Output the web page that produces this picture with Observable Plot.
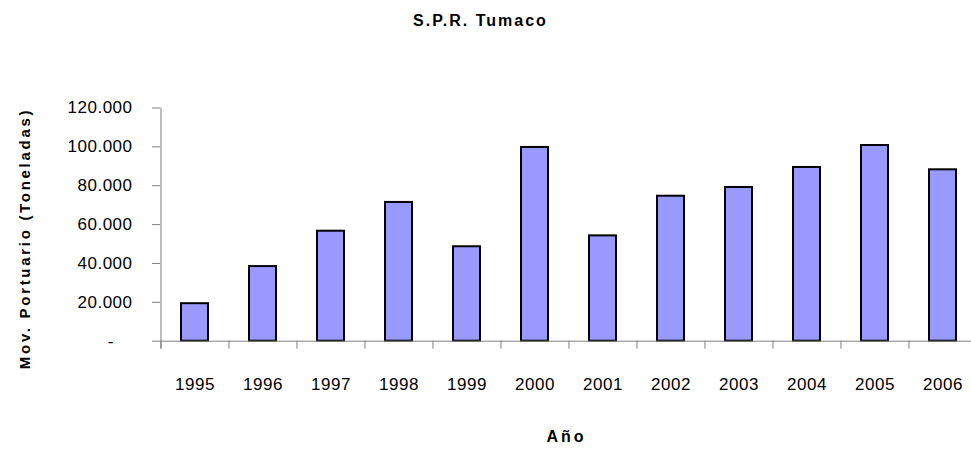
<!DOCTYPE html>
<html>
<head>
<meta charset="utf-8">
<script src="https://cdn.jsdelivr.net/npm/d3@7"></script>
<script src="https://cdn.jsdelivr.net/npm/@observablehq/plot@0.6"></script>
<style>
  body { margin: 0; background: #fff; }
  #chart { width: 971px; height: 450px; }
</style>
</head>
<body>
<div id="chart"></div>
<script>
const title = "S.P.R. Tumaco";
const xTitle = "Año";
const yTitle = "Mov. Portuario (Toneladas)";
const years = ["1995", "1996", "1997", "1998", "1999", "2000", "2001", "2002", "2003", "2004", "2005", "2006"];
const tonnes = [19300, 38400, 56600, 71400, 48600, 99700, 54200, 74600, 79100, 89400, 100700, 88200];
const yTicks = [0, 20000, 40000, 60000, 80000, 100000, 120000];

const data = years.map((year, i) => ({year, value: tonnes[i]}));
const fmt = d => d3.format(",")(d).replace(/,/g, ".");

const W = 971, H = 450;
const mLeft = 160, mTop = 107.5, mBottom = 109.3;
const xEnd = 977;
const step = (xEnd - mLeft) / years.length;
const frameH = H - mTop - mBottom;
const font = "'Liberation Sans', Arial, sans-serif";

const chart = Plot.plot({
  width: W,
  height: H,
  marginLeft: mLeft,
  marginRight: 0,
  marginTop: mTop,
  marginBottom: mBottom,
  style: {fontFamily: font, fontSize: "17px", background: "#fff", color: "#000"},
  x: {type: "band", domain: years, range: [mLeft, xEnd], paddingInner: 0.6, paddingOuter: 0.3, axis: null},
  y: {domain: [0, 120000], axis: null},
  marks: [
    Plot.barY(data, {x: "year", y: "value", fill: "#9999FF", stroke: "#000", strokeWidth: 2}),
    Plot.ruleX([years[0]], {x: d => d, dx: -step / 2, stroke: "#808080", strokeWidth: 1, insetBottom: -8}),
    Plot.ruleX(years, {x: d => d, dx: -step / 2, stroke: "#808080", strokeWidth: 1, insetTop: frameH, insetBottom: -8}),
    Plot.ruleY(yTicks, {y: d => d, stroke: "#808080", strokeWidth: 1, insetLeft: -8, insetRight: W - mLeft}),
    Plot.ruleY([0], {y: d => d, stroke: "#808080", strokeWidth: 1}),
    Plot.text(yTicks.filter(d => d !== 0), {y: d => d, text: fmt, frameAnchor: "left", textAnchor: "end", lineAnchor: "middle", dx: -28, fontSize: 17, fill: "#000"}),
    Plot.text([0], {y: d => d, text: () => "-", frameAnchor: "left", textAnchor: "middle", lineAnchor: "middle", dx: -50, fontSize: 17, fill: "#000"}),
    Plot.text(years, {x: d => d, text: d => d, frameAnchor: "bottom", lineAnchor: "middle", dy: 43, fontSize: 17, fill: "#000"}),
    Plot.text([title], {text: d => d, frameAnchor: "top", textAnchor: "middle", lineAnchor: "middle", dx: 480 - (mLeft + W) / 2, dy: 20 - mTop, fontSize: 16, fontWeight: "bold", fill: "#000"}),
    Plot.text([xTitle], {text: d => d, frameAnchor: "bottom", textAnchor: "middle", lineAnchor: "middle", dx: 566 - (mLeft + W) / 2, dy: 436 - (H - mBottom), fontSize: 16, fontWeight: "bold", fill: "#000"}),
    Plot.text([yTitle], {text: d => d, frameAnchor: "left", textAnchor: "middle", lineAnchor: "middle", rotate: -90, dx: 25 - mLeft, dy: 238 - (mTop + frameH / 2), fontSize: 15, fontWeight: "bold", fill: "#000"})
  ]
});

// letter spacing to mimic the stretched rendering of the original
const sel = d3.select(chart).selectAll("text");
sel.filter(function () { return /^[\d.]+$/.test(this.textContent); }).attr("letter-spacing", "0.5px");
sel.filter(function () { return this.textContent === title; }).attr("letter-spacing", "2px");
sel.filter(function () { return this.textContent === yTitle; }).attr("letter-spacing", "2.7px");
sel.filter(function () { return this.textContent === xTitle; }).attr("letter-spacing", "3px");
document.getElementById("chart").appendChild(chart);
</script>
</body>
</html>
